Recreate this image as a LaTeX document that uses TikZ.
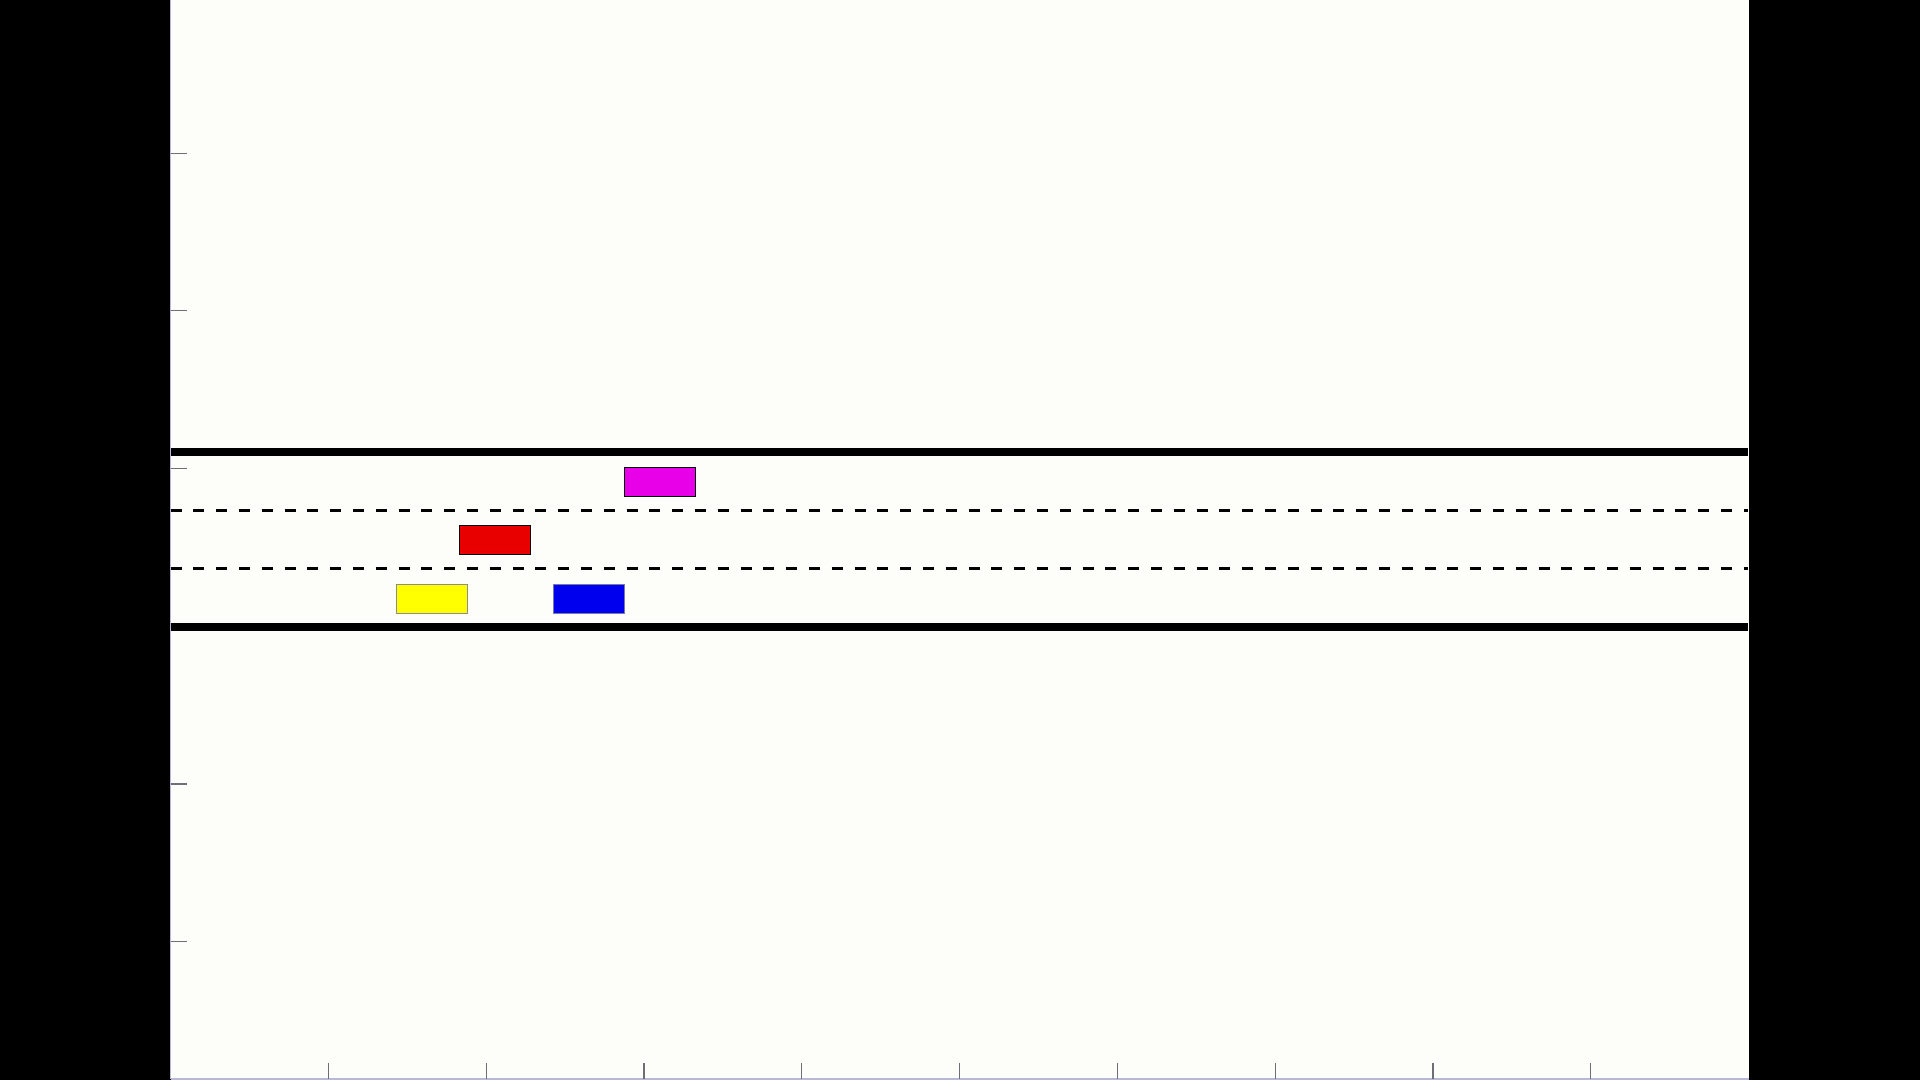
\documentclass[tikz,border=0pt]{standalone}
\begin{document}
\begin{tikzpicture}[x=0.5pt,y=-0.5pt,
  road/.style={line width=3.65pt,black},
  lanemark/.style={line width=1.75pt,black,dash pattern=on 5.5pt off 5.9pt},
  axisline/.style={line width=0.75pt,color={rgb,255:red,185;green,185;blue,215}},
  tickmark/.style={line width=0.6pt,color={rgb,255:red,110;green,110;blue,120}},
  car/.style={draw,line width=0.5pt,inner sep=0pt,minimum width=35.5pt,minimum height=14.5pt,anchor=north west}]
\useasboundingbox (0,0) rectangle (1920,1080);
\fill[black] (0,0) rectangle (1920,1080);
\fill[color={rgb,255:red,253;green,253;blue,249}] (170.5,0) rectangle (1748.5,1080);
% axes
\draw[axisline] (170.5,0) -- (170.5,1079);
\draw[axisline] (170.5,1079) -- (1748.5,1079);
\foreach \yy in {153.3,310.8,468.5,626.2,783.9,941.6} \draw[tickmark] (170.5,\yy) -- (186.5,\yy);
\foreach \k in {1,...,9} \draw[tickmark] ({170.5+157.8*\k},1079) -- ({170.5+157.8*\k},1063);
% road
\coordinate (tl) at (170.5,452); \coordinate (tr) at (1748,452);
\coordinate (bl) at (170.5,627); \coordinate (br) at (1748,627);
\coordinate (d1l) at (170.5,510.3); \coordinate (d1r) at (1748,510.3);
\coordinate (d2l) at (170.5,568.3); \coordinate (d2r) at (1748,568.3);
\draw[road] (tl) -- (tr);
\draw[road] (bl) -- (br);
\draw[lanemark] (d1l) -- (d1r);
\draw[lanemark] (d2l) -- (d2r);
% cars
\node[car,fill={rgb,255:red,232;green,0;blue,232},draw=black] (magenta) at (624.3,467) {};
\node[car,fill={rgb,255:red,232;green,0;blue,0},draw=black] (red) at (458.7,525.3) {};
\node[car,fill={rgb,255:red,255;green,255;blue,0},draw={rgb,255:red,140;green,140;blue,140}] (yellow) at (395.7,583.5) {};
\node[car,fill={rgb,255:red,0;green,0;blue,238},draw={rgb,255:red,120;green,120;blue,170}] (blue) at (553,583.5) {};
\end{tikzpicture}
\end{document}
